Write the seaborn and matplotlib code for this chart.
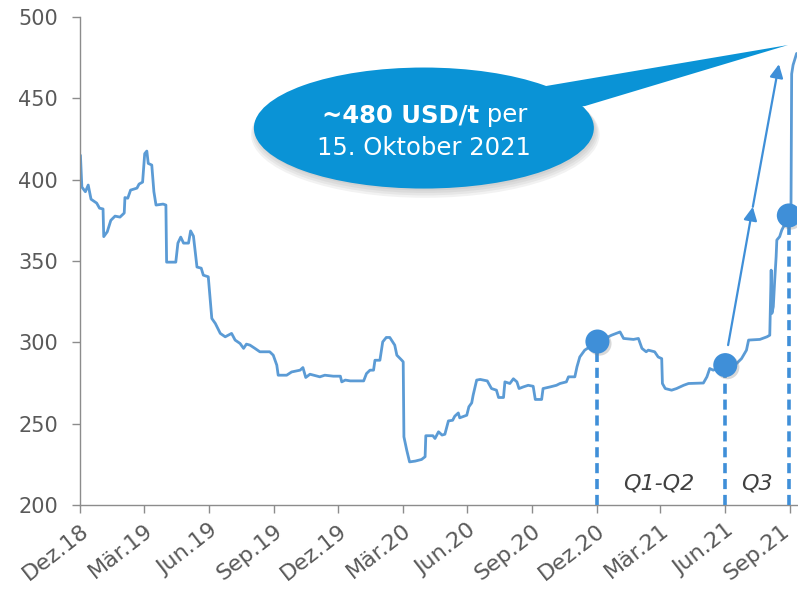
import numpy as np
import pandas as pd
import matplotlib
matplotlib.use("Agg")
import matplotlib.pyplot as plt
import matplotlib.dates as mdates
import matplotlib.transforms as mtransforms
from matplotlib.patches import Ellipse, Polygon
import matplotlib.patheffects as pe
import seaborn as sns

# ---------------- data ----------------
start_date = "2018-12-01"
day_offset = [0, 2, 7, 11, 15, 23, 27, 32, 33, 38, 43, 49, 56, 62, 63, 67, 71, 80, 83, 88,
              91, 94, 96, 101, 104, 107, 117, 121, 122, 135, 138, 142, 146, 153, 156, 160,
              165, 171, 174, 181, 186, 191, 198, 205, 214, 219, 226, 231, 235, 240, 247,
              254, 268, 273, 278, 280, 285, 292, 299, 311, 315, 319, 325, 339, 346, 358,
              368, 370, 375, 382, 401, 405, 410, 415, 417, 424, 428, 433, 438, 445, 448,
              455, 457, 458, 462, 466, 474, 483, 488, 489, 499, 502, 507, 512, 516, 521,
              527, 530, 535, 537, 547, 550, 554, 556, 561, 566, 576, 582, 589, 592, 599,
              601, 608, 613, 618, 621, 627, 634, 641, 644, 653, 655, 665, 674, 679, 688,
              691, 700, 703, 707, 714, 721, 733, 752, 764, 769, 783, 790, 795, 801, 804,
              813, 818, 823, 824, 828, 837, 844, 854, 861, 882, 887, 891, 896, 913, 929,
              936, 943, 946, 962, 972, 976, 978, 979, 981, 983, 985, 986, 990, 993, 1000,
              1005, 1006, 1007, 1009, 1014]
price = [415.0, 395.5, 392.6, 396.7, 388.0, 385.6, 382.5, 382.0, 365.0, 368.0, 375.0, 377.6,
         377.0, 379.5, 389.0, 388.6, 393.6, 394.8, 397.3, 398.5, 416.0, 417.6, 410.0, 409.0,
         392.6, 384.4, 385.0, 384.4, 349.3, 349.3, 361.0, 364.7, 361.0, 361.0, 368.5, 365.3,
         346.3, 345.6, 341.3, 340.3, 314.7, 311.6, 305.5, 303.4, 305.5, 301.4, 299.3, 296.3,
         298.9, 298.3, 296.3, 294.2, 294.2, 292.1, 286.0, 279.8, 279.8, 279.8, 281.8, 282.9,
         284.5, 278.4, 280.4, 278.8, 279.8, 279.2, 279.2, 275.7, 276.8, 276.3, 276.3, 280.8,
         282.9, 282.9, 289.0, 289.0, 300.3, 303.0, 303.0, 298.3, 292.1, 289.0, 288.0, 241.9,
         233.7, 226.5, 227.0, 228.0, 229.7, 242.6, 242.6, 240.9, 245.0, 243.0, 243.5, 251.7,
         252.1, 254.6, 256.6, 253.6, 255.2, 260.4, 262.8, 267.5, 276.8, 277.2, 276.3, 271.6,
         270.6, 266.1, 266.1, 275.7, 274.7, 277.6, 275.7, 271.6, 272.6, 273.6, 273.0, 264.9,
         264.9, 271.6, 272.6, 273.6, 274.7, 275.7, 278.8, 278.8, 284.9, 291.0, 295.2, 297.2,
         300.3, 304.4, 306.4, 302.4, 301.8, 302.4, 296.3, 294.2, 295.2, 294.2, 291.0, 290.0,
         274.7, 271.6, 270.6, 271.6, 273.6, 274.7, 275.0, 278.8, 283.9, 282.9, 286.0, 287.0,
         290.0, 295.2, 301.4, 301.8, 303.4, 304.4, 344.4, 317.8, 321.9, 338.3, 352.6, 362.9,
         365.0, 369.0, 375.0, 378.0, 378.0, 465.0, 470.5, 477.6]

tick_dates = ["2018-12-01", "2019-03-01", "2019-06-01", "2019-09-01", "2019-12-01",
              "2020-03-01", "2020-06-01", "2020-09-01", "2020-12-01", "2021-03-01",
              "2021-06-01", "2021-09-01"]
tick_labels = ["Dez.18", "Mär.19", "Jun.19", "Sep.19", "Dez.19", "Mär.20", "Jun.20",
               "Sep.20", "Dez.20", "Mär.21", "Jun.21", "Sep.21"]
y_ticks = [200, 250, 300, 350, 400, 450, 500]

# highlighted quarter points
marker_days = [732, 913, 1003]
marker_values = [300.5, 286.0, 378.0]

# trend arrow (day offset, value): start, middle head, end head
arrow_days = [917, 952, 989]
arrow_values = [298.3, 383.3, 471.0]

period_labels = ["Q1-Q2", "Q3"]
callout_bold = "~480 USD/t"
callout_rest = " per"
callout_line2 = "15. Oktober 2021"
x_end_day = 1014.5

# ---------------- build ----------------
t0 = pd.Timestamp(start_date)
df = pd.DataFrame({"date": t0 + pd.to_timedelta(day_offset, unit="D"), "price": price})
mk = pd.DataFrame({"date": t0 + pd.to_timedelta(marker_days, unit="D"), "price": marker_values})

sns.set_theme(style="white")
plt.rcParams["font.family"] = ["DejaVu Sans"]

fig = plt.figure(figsize=(7.98, 5.91), dpi=100)
ax = fig.add_axes([0.1008, 0.1455, 0.8979, 0.8257])

LINE = "#5b9bd5"
DOT = "#3f8fd8"
BUBBLE = "#0a93d6"
GREY = "#595959"

sns.lineplot(data=df, x="date", y="price", ax=ax, color=LINE, linewidth=2.0,
             estimator=None, sort=False)

# dashed drop lines
for d, v in zip(mk["date"], mk["price"]):
    ax.plot([d, d], [200, v], color=DOT, linewidth=2.6, linestyle=(0, (2.8, 1.6)),
            zorder=3, solid_capstyle="butt")

sns.scatterplot(data=mk, x="date", y="price", ax=ax, s=300, color=DOT, edgecolor="none",
                zorder=5, linewidth=0,
                path_effects=[pe.SimplePatchShadow(offset=(1.5, -1.5), shadow_rgbFace="#808080",
                                                   alpha=0.3), pe.Normal()])

# trend arrows
adates = t0 + pd.to_timedelta(arrow_days, unit="D")
anum = mdates.date2num(adates.to_pydatetime())
for i in range(len(anum) - 1):
    ax.annotate("", xy=(anum[i + 1], arrow_values[i + 1]), xytext=(anum[i], arrow_values[i]),
                arrowprops=dict(arrowstyle="-|>", color=DOT, lw=1.6, mutation_scale=20,
                                shrinkA=0, shrinkB=0), zorder=4)

# axes styling
ax.set_ylim(200, 500)
ax.set_xlim(t0, t0 + pd.Timedelta(days=x_end_day))
ax.set_yticks(y_ticks)
ax.set_yticklabels([str(v) for v in y_ticks])
ax.set_xticks(pd.to_datetime(tick_dates))
ax.set_xticklabels(tick_labels, rotation=38, ha="right", va="top", rotation_mode="anchor",
                   fontsize=16)
ax.set_xlabel("")
ax.set_ylabel("")
for s in ["top", "right"]:
    ax.spines[s].set_visible(False)
for s in ["left", "bottom"]:
    ax.spines[s].set_color("#8c8c8c")
    ax.spines[s].set_linewidth(1.0)
ax.tick_params(axis="both", colors="#8c8c8c", labelcolor=GREY,
               direction="out", length=6, width=1.0, left=True, bottom=True)
ax.tick_params(axis="y", labelsize=15, pad=10)
ax.tick_params(axis="x", labelsize=16, pad=5)

# keep the last tick label inside the canvas
last = ax.get_xticklabels()[-1]
last.set_transform(last.get_transform() +
                   mtransforms.ScaledTranslation(-7 / 72, 0, fig.dpi_scale_trans))

# callout bubble with a soft shadow
for k, a in enumerate([0.10, 0.10, 0.10, 0.10]):
    sh = Ellipse((0.4793 + 0.002, 0.7725 - 0.004 - 0.003 * k), 0.4745 + 0.004 * k,
                 0.248 + 0.004 * k, transform=ax.transAxes, facecolor="#808080",
                 edgecolor="none", alpha=a, zorder=5.5, clip_on=False)
    ax.add_patch(sh)
ell = Ellipse((0.4793, 0.7725), 0.4745, 0.248, transform=ax.transAxes, facecolor=BUBBLE,
              edgecolor="none", zorder=6, clip_on=False)
tail = Polygon([(0.6497, 0.8586), (0.9875, 0.9426), (0.7042, 0.8176), (0.60, 0.80)],
               closed=True, transform=ax.transAxes, facecolor=BUBBLE, edgecolor="none",
               zorder=6, clip_on=False)
ax.add_patch(tail)
ax.add_patch(ell)
ax.text(0.5565, 0.799, callout_bold, transform=ax.transAxes, ha="right", va="center",
        color="white", fontsize=17.5, fontweight="bold", zorder=7)
ax.text(0.5565, 0.799, callout_rest, transform=ax.transAxes, ha="left", va="center",
        color="white", fontsize=17.5, zorder=7)
ax.text(0.479, 0.731, callout_line2, transform=ax.transAxes, ha="center", va="center",
        color="white", fontsize=17.5, zorder=7)

# period labels
ax.text(0.807, 0.045, period_labels[0], transform=ax.transAxes, ha="center", va="center",
        color="#404040", fontsize=16, style="italic", zorder=7)
ax.text(0.944, 0.045, period_labels[1], transform=ax.transAxes, ha="center", va="center",
        color="#404040", fontsize=16, style="italic", zorder=7)

fig.savefig("out.png", dpi=100)
